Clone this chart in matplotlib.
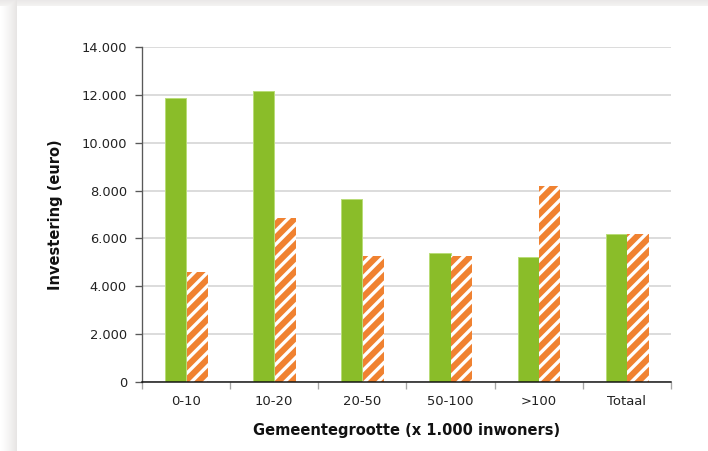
import numpy as np
import matplotlib
matplotlib.use("Agg")
import matplotlib.pyplot as plt

# Investment per municipality size class
categories = ["0-10", "10-20", "20-50", "50-100", ">100", "Totaal"]
series_green = [11880, 12170, 7640, 5400, 5210, 6170]
series_orange = [4590, 6860, 5250, 5260, 8190, 6170]
y_ticks = [0, 2000, 4000, 6000, 8000, 10000, 12000, 14000]
y_tick_labels = ["0", "2.000", "4.000", "6.000", "8.000", "10.000", "12.000", "14.000"]

GREEN = "#8abd29"
ORANGE = "#f08231"

plt.rcParams["font.family"] = ["DejaVu Sans"]
plt.rcParams["hatch.linewidth"] = 2.0

DPI = 120
W, H = 708, 451
fig = plt.figure(figsize=(W / DPI, H / DPI), dpi=DPI)
fig.patch.set_facecolor("white")

# soft card shadow along the left and top edges
bg = fig.add_axes([0, 0, 1, 1], zorder=-10)
bg.set_axis_off()
xs = np.arange(W)
ys = np.arange(H)
card_x, card_y = 17, 6
shade = np.zeros((H, W))
left = (xs < card_x)
shade[:, left] = np.clip(xs[left] / card_x, 0, 1)[None, :] ** 1.3 * 0.10
top = (ys < card_y)
shade[top, :] = np.maximum(shade[top, :], 0.08 * np.clip(1 - ys[top] / (card_y + 6), 0, 1)[:, None])
tint = np.array([0.0, 0.02, 0.03])
img = 1 - shade[..., None] * (1 + tint[None, None, :] * 4)
bg.imshow(np.clip(img, 0, 1), extent=[0, 1, 0, 1], aspect="auto", interpolation="bilinear")
bg.set_xlim(0, 1)
bg.set_ylim(0, 1)

ax = fig.add_axes([142 / W, (H - 382) / H, 529 / W, 335 / H])
ax.set_facecolor("none")

x = np.arange(len(categories))
bw = 0.24
ax.bar(x - bw / 2, series_green, width=bw, color=GREEN, edgecolor="#b9dc78",
       linewidth=0.6, zorder=3)
ax.bar(x + bw / 2 + 0.005, series_orange, width=bw, color=ORANGE, edgecolor="white",
       linewidth=0.0, hatch="///", zorder=3)

ax.set_xlim(-0.5, len(categories) - 0.5)
ax.set_ylim(0, 14000)
ax.set_yticks(y_ticks)
ax.set_yticklabels(y_tick_labels)
ax.yaxis.grid(True, color="#d9d9d9", linewidth=1.1, zorder=0)
ax.set_axisbelow(True)

ax.set_xticks(x)
ax.set_xticklabels(categories)
ax.set_xticks(np.arange(-0.5, len(categories)), minor=True)
ax.tick_params(axis="x", which="major", length=0, pad=8, labelsize=7.9, colors="#222222")
ax.tick_params(axis="x", which="minor", length=4, width=0.8, color="#a6a6a6", direction="out")
ax.tick_params(axis="y", length=4, width=0.8, color="#595959", pad=5, labelsize=7.8,
               labelcolor="#222222")

for s in ["top", "right"]:
    ax.spines[s].set_visible(False)
ax.spines["left"].set_color("#595959")
ax.spines["left"].set_linewidth(0.8)
ax.spines["bottom"].set_color("#111111")
ax.spines["bottom"].set_linewidth(0.9)
ax.spines["bottom"].set_zorder(4)

ax.set_xlabel("Gemeentegrootte (x 1.000 inwoners)", fontsize=8.8, fontweight="bold",
              color="#111111", labelpad=9)
ax.set_ylabel("Investering (euro)", fontsize=8.8, fontweight="bold", color="#111111",
              labelpad=11)

fig.savefig("out.png", dpi=DPI)
